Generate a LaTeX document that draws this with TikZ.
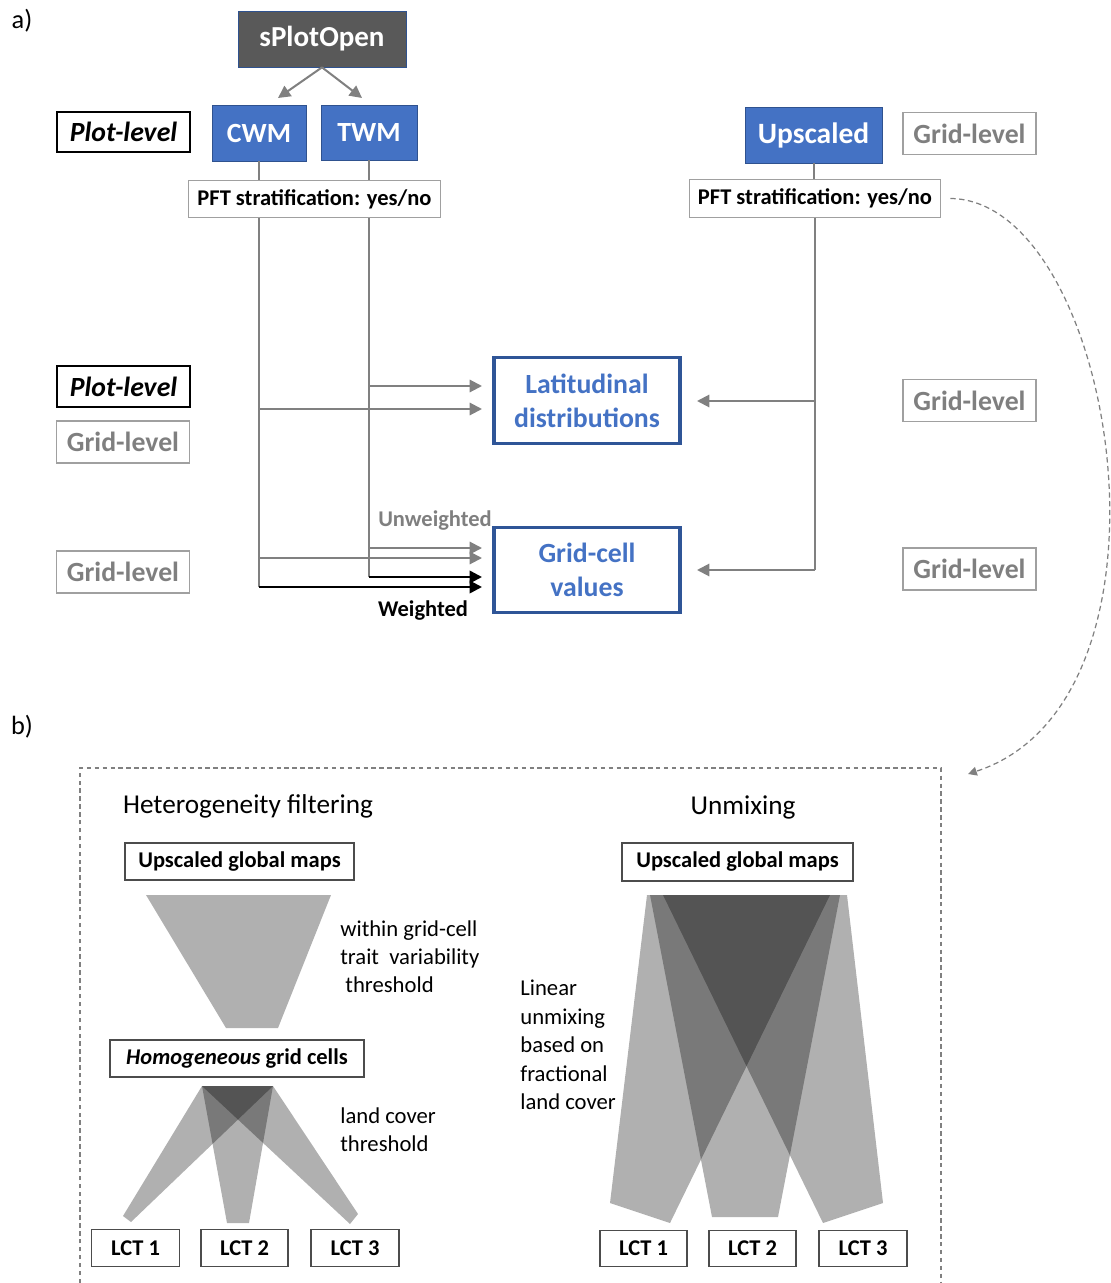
\documentclass[tikz,border=0pt]{standalone}
\usepackage{fontspec}
\setmainfont{Carlito}
\usetikzlibrary{arrows.meta}

\definecolor{boxblue}{HTML}{4472C4}
\definecolor{edgeblue}{HTML}{2F528F}
\definecolor{frameblue}{HTML}{2F5597}
\definecolor{darkfill}{HTML}{595959}
\definecolor{linegray}{HTML}{808080}
\definecolor{textgray}{HTML}{7F7F7F}
\definecolor{edgegray}{HTML}{A0A0A0}
\definecolor{beamgray}{HTML}{B0B0B0}

\tikzset{
	bigtxt/.style={font=\fontsize{15.8}{18}\selectfont\bfseries},
	smalltxt/.style={font=\fontsize{12.8}{15}\selectfont\bfseries},
	bluebox/.style={draw=edgeblue, fill=boxblue, text=white, bigtxt, inner sep=0pt, minimum height=1.12cm},
	plotbox/.style={draw=black, line width=0.9pt, bigtxt, inner sep=0pt, minimum width=2.66cm, minimum height=0.81cm},
	gridbox/.style={draw=edgegray, line width=0.9pt, text=textgray, bigtxt, inner sep=0pt, minimum width=2.66cm, minimum height=0.84cm},
	pftbox/.style={draw=edgegray, line width=0.8pt, fill=white, smalltxt, inner sep=0pt, minimum width=5.03cm, minimum height=0.75cm},
	outbox/.style={draw=frameblue, line width=1.8pt, text=boxblue, align=center, inner sep=0pt, minimum width=3.72cm, minimum height=1.71cm, font=\fontsize{15.8}{19.3}\selectfont\bfseries},
	mapbox/.style={draw=black!70, line width=0.8pt, smalltxt, inner sep=0pt, minimum height=0.75cm},
	lctbox/.style={draw=black!70, line width=0.8pt, smalltxt, inner sep=0pt, minimum width=1.76cm, minimum height=0.73cm},
	note/.style={align=left, anchor=west, inner sep=0pt, font=\fontsize{12.9}{15.9}\selectfont},
	gline/.style={draw=linegray, line width=1.15pt},
	garrow/.style={gline, -{Triangle[length=7pt, width=7pt]}},
	karrow/.style={draw=black, line width=1.4pt, -{Triangle[length=7pt, width=7pt]}},
	beam/.style={fill=black, fill opacity=0.31}
}

\begin{document}
\begin{tikzpicture}[x=0.02cm, y=-0.02cm]
	\useasboundingbox (0,0) rectangle (1110,1283);
	
	%Panel a)
	\node[font=\fontsize{15}{18}\selectfont] (lblA) at (22,21) {a)};
	
	\node[bluebox, fill=darkfill, minimum width=3.36cm, font=\fontsize{16.5}{19}\selectfont\bfseries] (splot) at (322,39) {sPlotOpen};
	\node[bluebox, minimum width=1.88cm] (cwm) at (259,133) {CWM};
	\node[bluebox, minimum width=1.92cm, minimum height=1.10cm] (twm) at (369,132.5) {TWM};
	\node[plotbox] (plotA) at (123.5,132) {\itshape Plot-level};
	\node[pftbox] (pftL) at (314.5,199) {PFT stratification: yes/no};
	
	\node[bluebox, minimum width=2.74cm, font=\fontsize{16.8}{19}\selectfont\bfseries] (upsc) at (813.5,135) {Upscaled};
	\node[gridbox] (gridA) at (969.5,133.5) {Grid-level};
	\node[pftbox] (pftR) at (815,198.5) {PFT stratification: yes/no};
	
	\node[outbox] (latd) at (587,400.5) {Latitudinal\\distributions};
	\node[outbox] (gcell) at (587,570) {Grid-cell\\values};
	
	\node[plotbox] (plotB) at (123.5,386.5) {\itshape Plot-level};
	\node[gridbox] (gridB) at (123,442) {Grid-level};
	\node[gridbox] (gridC) at (123,572) {Grid-level};
	\node[gridbox] (gridD) at (969.5,400.5) {Grid-level};
	\node[gridbox] (gridE) at (969.5,569) {Grid-level};
	
	\node[smalltxt, text=textgray] (unw) at (435,521) {Unweighted};
	\node[smalltxt] (wgt) at (423,611) {Weighted};
	
	%Arrow ends
	\coordinate (toCwm) at (278,98);
	\coordinate (toTwm) at (362,98);
	\coordinate (lat1) at (482,386);
	\coordinate (lat2) at (482,409);
	\coordinate (gc1) at (482,548);
	\coordinate (gc2) at (482,558);
	\coordinate (gc3) at (482,577);
	\coordinate (gc4) at (482,587);
	\coordinate (rlat) at (697,401);
	\coordinate (rgc) at (697,570);
	
	\draw[garrow] (splot.south) -- (toCwm);
	\draw[garrow] (splot.south) -- (toTwm);
	
	%CWM and TWM branches
	\draw[gline] (cwm.south) -- (cwm.south |- pftL.north);
	\draw[gline] (twm.south) -- (twm.south |- pftL.north);
	\draw[gline] (cwm.south |- pftL.south) -- (cwm.south |- gc4);
	\draw[gline] (twm.south |- pftL.south) -- (twm.south |- gc3);
	\draw[garrow] (twm.south |- lat1) -- (lat1);
	\draw[garrow] (cwm.south |- lat2) -- (lat2);
	\draw[garrow] (twm.south |- gc1) -- (gc1);
	\draw[garrow] (cwm.south |- gc2) -- (gc2);
	\draw[karrow] (twm.south |- gc3) -- (gc3);
	\draw[karrow] (cwm.south |- gc4) -- (gc4);
	
	%Upscaled branch
	\draw[gline] (upsc.south) -- (upsc.south |- pftR.north);
	\draw[gline] (pftR.south) -- (pftR.south |- rgc);
	\draw[garrow] (pftR.south |- rlat) -- (rlat);
	\draw[garrow] (pftR.south |- rgc) -- (rgc);
	
	%Panel b)
	\node[font=\fontsize{15}{18}\selectfont] (lblB) at (22,727) {b)};
	\coordinate (frameIn) at (968,774);
	\draw[linegray, line width=0.6pt, dash pattern=on 2.5pt off 2pt] (80,1283) -- (80,768) -- (941,768) -- (941,1283);
	\draw[linegray, line width=0.7pt, dash pattern=on 3pt off 2pt, -{Triangle[length=5pt, width=5pt]}]
		([xshift=0.18cm]pftR.east) .. controls (1115,200) and (1195,700) .. (frameIn);
	
	\node[font=\fontsize{15.5}{18}\selectfont] (hetT) at (248,806) {Heterogeneity filtering};
	\node[font=\fontsize{15.5}{18}\selectfont] (unmT) at (743,807) {Unmixing};
	
	%Heterogeneity filtering
	\node[mapbox, minimum width=4.58cm, minimum height=0.74cm] (ugmL) at (239.5,861.5) {Upscaled global maps};
	\fill[beamgray] (146,895) -- (331,895) -- (278,1028) -- (226,1028) -- cycle;
	\node[note] (varT) at (340,957) {within grid-cell\\trait~ variability\\\ threshold};
	\node[mapbox, minimum width=5.08cm, minimum height=0.74cm] (homo) at (237,1058.5) {\itshape Homogeneous\upshape\ grid cells};
	\fill[beam] (202,1086) -- (273,1086) -- (131,1222) -- (123,1216) -- cycle;
	\fill[beam] (202,1086) -- (273,1086) -- (249,1223) -- (227,1223) -- cycle;
	\fill[beam] (202,1086) -- (273,1086) -- (358,1214) -- (350,1224) -- cycle;
	\node[note] (lcT) at (340,1130) {land cover\\threshold};
	\node[lctbox] (lctA) at (135.5,1248) {LCT 1};
	\node[lctbox, minimum width=1.74cm] (lctB) at (244.5,1248) {LCT 2};
	\node[lctbox] (lctC) at (355,1248) {LCT 3};
	
	%Unmixing
	\node[mapbox, minimum width=4.62cm, minimum height=0.76cm] (ugmR) at (737.5,862) {Upscaled global maps};
	\fill[beam] (647,895) -- (830,895) -- (670,1223) -- (610,1203) -- cycle;
	\fill[beam] (650,895) -- (840,895) -- (778,1217) -- (712,1217) -- cycle;
	\fill[beam] (663,895) -- (847,895) -- (883,1203) -- (823,1223) -- cycle;
	\node[note, font=\fontsize{12.9}{16.2}\selectfont] (linT) at (520,1045) {Linear\\unmixing\\based on\\fractional\\land cover};
	\node[lctbox, minimum width=1.74cm] (lctD) at (643.5,1248.5) {LCT 1};
	\node[lctbox, minimum width=1.74cm] (lctE) at (752.5,1248.5) {LCT 2};
	\node[lctbox] (lctF) at (863,1248.5) {LCT 3};
\end{tikzpicture}
\end{document}
